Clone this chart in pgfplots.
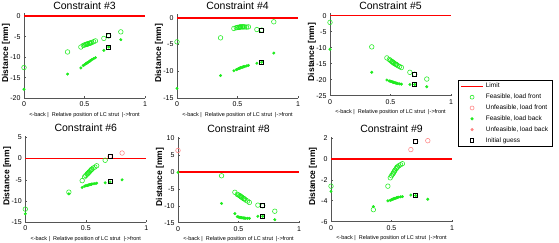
\documentclass[border=0pt]{standalone}
\usepackage{fontspec}
\setmainfont{Liberation Sans}
\usepackage{pgfplots}
\pgfplotsset{compat=1.18}
\definecolor{fgreen}{RGB}{30,235,30}
\definecolor{ured}{RGB}{255,130,130}
\definecolor{axgray}{RGB}{85,85,85}
\pgfplotsset{
  every axis title shift=0pt,
  cax/.style={scale only axis, width=121pt, anchor=south west, xmin=0, xmax=1,
    xtick={0,0.5,1}, xticklabels={0,0.5,1},
    axis x line*=bottom, axis y line*=left,
    axis line style={-,axgray,line width=0.8pt},
    tick style={axgray,line width=0.6pt}, tick align=inside, major tick length=2pt,
    ticklabel style={font=\fontsize{7}{8}\selectfont},
    /pgf/number format/assume math mode=true,
    xlabel={<-back |\ \ Relative position of LC strut\ \ |->front},
    xlabel style={font=\fontsize{5.5}{6}\selectfont, at={(axis description cs:0.5,0)}, anchor=north, yshift=-10.5pt},
    ylabel={\textbf{Distance [mm]}},
    ylabel style={font=\fontsize{8.5}{10}\selectfont, at={(axis description cs:-0.15,0.53)}, anchor=center},
    title style={font=\fontsize{10.5}{12}\selectfont, at={(axis description cs:0.5,1)}, anchor=base, yshift=4pt},
    clip=false},
  ff/.style={only marks, mark=o, mark size=2.3pt, fgreen, line width=0.55pt, forget plot},
  uf/.style={only marks, mark=o, mark size=2.3pt, ured, line width=0.55pt, forget plot},
  fb/.style={only marks, mark=*, mark size=1.3pt, fgreen, forget plot},
  ig/.style={only marks, mark=square, mark size=2pt, black, line width=1pt, forget plot},
  lim/.style={red, line width=1.6pt, forget plot},
}
\begin{document}
\begin{tikzpicture}
\useasboundingbox (0,0) rectangle (559pt,242pt);
% Constraint #3
\begin{axis}[cax, at={(24pt,143.7pt)}, height=84.9pt, ymin=-20, ymax=0.7, ytick={-20,-15,-10,-5,0}, title={Constraint \#3}]
\addplot[lim] coordinates {(0,0) (1,0)};
\addplot[ff] coordinates {(0,-12.5) (0.36,-8.7) (0.47,-7.5) (0.49,-7.1) (0.50,-7.0) (0.51,-6.9) (0.515,-6.85) (0.52,-6.8) (0.525,-6.75) (0.53,-6.7) (0.54,-6.6) (0.545,-6.55) (0.55,-6.5) (0.56,-6.4) (0.575,-6.2) (0.59,-6.0) (0.66,-5.4) (0.70,-4.8) (0.80,-3.8)};
\addplot[fb] coordinates {(0,-17.8) (0.36,-14.1) (0.47,-12.6) (0.49,-12.0) (0.50,-11.8) (0.51,-11.6) (0.515,-11.5) (0.52,-11.4) (0.525,-11.3) (0.53,-11.2) (0.54,-11.0) (0.545,-10.9) (0.55,-10.8) (0.56,-10.6) (0.575,-10.35) (0.59,-10.1) (0.66,-8.3) (0.70,-7.5) (0.80,-5.7)};
\addplot[ig] coordinates {(0.70,-4.8) (0.70,-7.5)};
\end{axis}
% Constraint #4
\begin{axis}[cax, at={(177pt,144pt)}, height=84.5pt, ymin=-15, ymax=0.8, ytick={-15,-10,-5,0}, title={Constraint \#4}]
\addplot[lim] coordinates {(0,0) (1,0)};
\addplot[ff] coordinates {(0,-4.5) (0.36,-3.75) (0.47,-2.0) (0.49,-1.85) (0.50,-1.8) (0.51,-1.8) (0.515,-1.75) (0.52,-1.75) (0.525,-1.7) (0.53,-1.7) (0.54,-1.7) (0.545,-1.7) (0.55,-1.7) (0.56,-1.7) (0.575,-1.75) (0.59,-1.7) (0.66,-2.2) (0.70,-2.3) (0.80,-0.75)};
\addplot[fb] coordinates {(0,-13.2) (0.36,-10.8) (0.47,-9.9) (0.49,-9.7) (0.50,-9.6) (0.51,-9.5) (0.515,-9.45) (0.52,-9.4) (0.525,-9.35) (0.53,-9.3) (0.54,-9.25) (0.545,-9.2) (0.55,-9.15) (0.56,-9.1) (0.575,-9.0) (0.59,-8.9) (0.66,-8.5) (0.70,-8.3) (0.80,-6.6)};
\addplot[ig] coordinates {(0.70,-2.3) (0.70,-8.3)};
\end{axis}
% Constraint #5 (with legend)
\begin{axis}[cax, at={(330pt,146.3pt)}, height=82.6pt, ymin=-25, ymax=0.8, ytick={-25,-20,-15,-10,-5,0}, title={Constraint \#5},
  legend cell align=left,
  legend style={at={(axis description cs:1.058,0.19)}, anchor=north west, font=\fontsize{6.5}{7.5}\selectfont, draw=black, line width=0.5pt, inner xsep=2pt, inner ysep=1pt, row sep=0.6pt}]
\addlegendimage{legend image code/.code={\draw[red,line width=1.6pt] (0pt,0pt) -- (22pt,0pt);}}
\addlegendentry{Limit}
\addlegendimage{legend image code/.code={\draw[fgreen,line width=0.55pt,mark=o,mark size=2pt] plot coordinates {(11pt,0pt)};}}
\addlegendentry{Feasible, load front}
\addlegendimage{legend image code/.code={\draw[ured,line width=0.55pt,mark=o,mark size=2pt] plot coordinates {(11pt,0pt)};}}
\addlegendentry{Unfeasible, load front}
\addlegendimage{legend image code/.code={\draw[fgreen,mark=*,mark size=1.3pt] plot coordinates {(11pt,0pt)};}}
\addlegendentry{Feasible, load back}
\addlegendimage{legend image code/.code={\draw[ured,mark=*,mark size=1.3pt] plot coordinates {(11pt,0pt)};}}
\addlegendentry{Unfeasible, load back}
\addlegendimage{legend image code/.code={\draw[black,line width=1pt,mark=square,mark size=1.8pt] plot coordinates {(11pt,0pt)};}}
\addlegendentry{Initial guess}
\addplot[lim] coordinates {(0,0) (1,0)};
\addplot[ff] coordinates {(0,-2.1) (0.345,-9.75) (0.47,-13.2) (0.49,-13.7) (0.50,-14.0) (0.51,-14.3) (0.515,-14.4) (0.52,-14.6) (0.525,-14.7) (0.53,-14.9) (0.54,-15.1) (0.545,-15.2) (0.55,-15.3) (0.56,-15.6) (0.575,-15.9) (0.59,-16.2) (0.66,-17.7) (0.70,-18.3) (0.80,-19.8)};
\addplot[fb] coordinates {(0,-10.5) (0.345,-17.7) (0.47,-20.1) (0.49,-20.4) (0.50,-20.5) (0.51,-20.6) (0.515,-20.7) (0.52,-20.75) (0.525,-20.8) (0.53,-20.9) (0.54,-21.0) (0.545,-21.05) (0.55,-21.1) (0.56,-21.2) (0.575,-21.3) (0.59,-21.4) (0.66,-21.5) (0.70,-21.5) (0.80,-22.2)};
\addplot[ig] coordinates {(0.70,-18.3) (0.70,-21.5)};
\end{axis}
% Constraint #6
\begin{axis}[cax, at={(25.3pt,19.7pt)}, height=86.7pt, ymin=-15, ymax=5.4, ytick={-15,-10,-5,0,5}, title={Constraint \#6}]
\addplot[lim] coordinates {(0,0) (1,0)};
\addplot[ff] coordinates {(0,-11.9) (0.36,-7.9) (0.47,-5.2) (0.49,-4.3) (0.50,-4.0) (0.51,-3.7) (0.515,-3.55) (0.52,-3.4) (0.525,-3.25) (0.53,-3.1) (0.54,-2.8) (0.545,-2.65) (0.55,-2.5) (0.56,-2.25) (0.575,-2.0) (0.59,-1.7) (0.66,-0.4)};
\addplot[uf] coordinates {(0.70,0.5) (0.80,1.3)};
\addplot[fb] coordinates {(0,-13.0) (0.36,-8.3) (0.47,-6.8) (0.49,-6.5) (0.50,-6.4) (0.51,-6.35) (0.515,-6.3) (0.52,-6.25) (0.525,-6.2) (0.53,-6.15) (0.54,-6.1) (0.545,-6.05) (0.55,-6.0) (0.56,-5.95) (0.575,-5.9) (0.59,-5.8) (0.66,-5.7) (0.70,-5.5) (0.80,-5.0)};
\addplot[ig] coordinates {(0.70,0.5) (0.70,-5.5)};
\end{axis}
% Constraint #8
\begin{axis}[cax, at={(178pt,19.3pt)}, height=86.1pt, ymin=-15, ymax=10.5, ytick={-15,-10,-5,0,5,10}, title={Constraint \#8}]
\addplot[lim] coordinates {(0,0) (1,0)};
\addplot[ff] coordinates {(0.36,-1.1) (0.47,-6.0) (0.49,-6.6) (0.50,-6.8) (0.51,-7.0) (0.515,-7.1) (0.52,-7.3) (0.525,-7.4) (0.53,-7.5) (0.54,-7.8) (0.545,-7.9) (0.55,-8.0) (0.56,-8.3) (0.575,-8.6) (0.59,-9.0) (0.66,-9.8) (0.70,-10.0) (0.80,-11.6)};
\addplot[uf] coordinates {(0,6.4)};
\addplot[fb] coordinates {(0,-0.1) (0.36,-9.3) (0.47,-12.3) (0.49,-13.2) (0.50,-13.3) (0.51,-13.4) (0.515,-13.45) (0.52,-13.5) (0.525,-13.5) (0.53,-13.55) (0.54,-13.6) (0.545,-13.6) (0.55,-13.65) (0.56,-13.7) (0.575,-13.7) (0.59,-13.7) (0.66,-13.1) (0.70,-13.1) (0.80,-14.1)};
\addplot[ig] coordinates {(0.70,-10.0) (0.70,-13.1)};
\end{axis}
% Constraint #9
\begin{axis}[cax, at={(331pt,20.3pt)}, height=85.2pt, ymin=-6, ymax=2.15, ytick={-6,-4,-2,0,2}, title={Constraint \#9}]
\addplot[lim] coordinates {(0,0) (1,0)};
\addplot[ff] coordinates {(0,-2.6) (0.35,-4.85) (0.47,-2.6) (0.49,-1.8) (0.50,-1.6) (0.51,-1.45) (0.515,-1.35) (0.52,-1.25) (0.525,-1.15) (0.53,-1.05) (0.54,-0.9) (0.545,-0.8) (0.55,-0.75) (0.56,-0.65) (0.575,-0.55) (0.59,-0.45)};
\addplot[uf] coordinates {(0.66,0.9) (0.70,1.65) (0.80,1.75)};
\addplot[fb] coordinates {(0,-3.1) (0.35,-4.55) (0.47,-4.0) (0.49,-3.95) (0.50,-3.9) (0.51,-3.85) (0.515,-3.82) (0.52,-3.8) (0.525,-3.78) (0.53,-3.76) (0.54,-3.72) (0.545,-3.7) (0.55,-3.68) (0.56,-3.65) (0.575,-3.62) (0.59,-3.6) (0.66,-3.45) (0.70,-3.5) (0.80,-3.85)};
\addplot[ig] coordinates {(0.70,1.65) (0.70,-3.5)};
\end{axis}
\end{tikzpicture}
\end{document}
